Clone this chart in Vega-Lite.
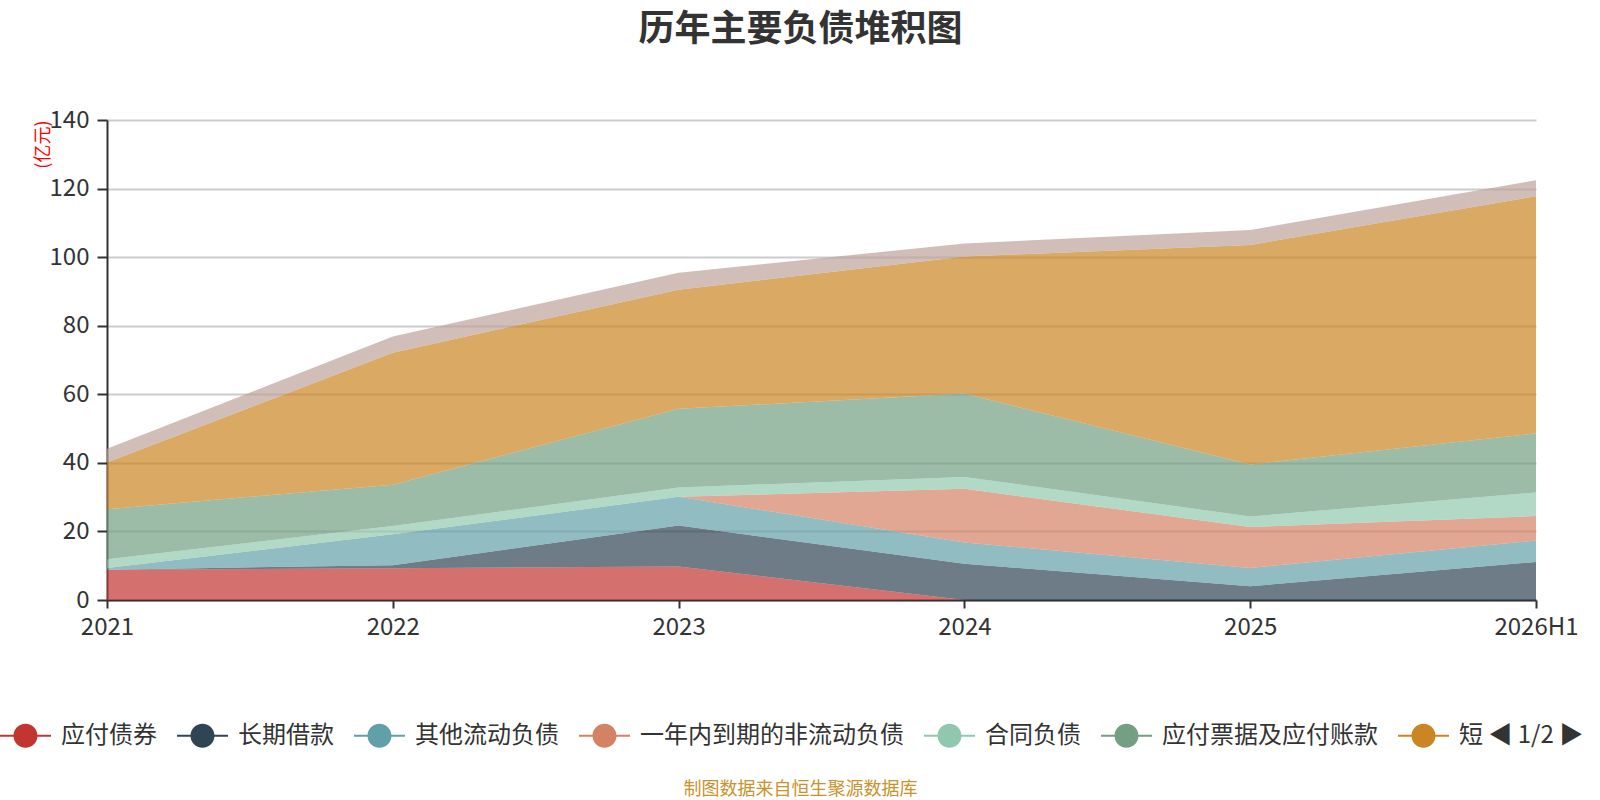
{
  "$schema": "https://vega.github.io/schema/vega-lite/v6.json",
  "width": 1429,
  "height": 480,
  "autosize": "none",
  "padding": {"left": 107, "top": 120, "right": 64, "bottom": 200},
  "background": "white",
  "config": {"font": "Noto Sans CJK SC", "view": {"stroke": null}},
  "title": {
    "text": "历年主要负债堆积图",
    "fontSize": 36,
    "fontWeight": "bold",
    "color": "#333333",
    "anchor": "middle",
    "dx": -21,
    "offset": 59
  },
  "data": {
    "values": [
      {"year": "2021", "item": "应付债券", "value": 8.85},
      {"year": "2022", "item": "应付债券", "value": 9.25},
      {"year": "2023", "item": "应付债券", "value": 9.8},
      {"year": "2024", "item": "应付债券", "value": 0},
      {"year": "2025", "item": "应付债券", "value": 0},
      {"year": "2026H1", "item": "应付债券", "value": 0},
      {"year": "2021", "item": "长期借款", "value": 0},
      {"year": "2022", "item": "长期借款", "value": 0.9},
      {"year": "2023", "item": "长期借款", "value": 11.9},
      {"year": "2024", "item": "长期借款", "value": 10.6},
      {"year": "2025", "item": "长期借款", "value": 4.0},
      {"year": "2026H1", "item": "长期借款", "value": 11.1},
      {"year": "2021", "item": "其他流动负债", "value": 0.45},
      {"year": "2022", "item": "其他流动负债", "value": 9.0},
      {"year": "2023", "item": "其他流动负债", "value": 8.4},
      {"year": "2024", "item": "其他流动负债", "value": 6.2},
      {"year": "2025", "item": "其他流动负债", "value": 5.35},
      {"year": "2026H1", "item": "其他流动负债", "value": 6.25},
      {"year": "2021", "item": "一年内到期的非流动负债", "value": 0},
      {"year": "2022", "item": "一年内到期的非流动负债", "value": 0},
      {"year": "2023", "item": "一年内到期的非流动负债", "value": 0},
      {"year": "2024", "item": "一年内到期的非流动负债", "value": 15.65},
      {"year": "2025", "item": "一年内到期的非流动负债", "value": 11.95},
      {"year": "2026H1", "item": "一年内到期的非流动负债", "value": 7.15},
      {"year": "2021", "item": "合同负债", "value": 2.6},
      {"year": "2022", "item": "合同负债", "value": 2.4},
      {"year": "2023", "item": "合同负债", "value": 2.7},
      {"year": "2024", "item": "合同负债", "value": 3.45},
      {"year": "2025", "item": "合同负债", "value": 3.05},
      {"year": "2026H1", "item": "合同负债", "value": 6.85},
      {"year": "2021", "item": "应付票据及应付账款", "value": 14.6},
      {"year": "2022", "item": "应付票据及应付账款", "value": 12.1},
      {"year": "2023", "item": "应付票据及应付账款", "value": 22.95},
      {"year": "2024", "item": "应付票据及应付账款", "value": 24.3},
      {"year": "2025", "item": "应付票据及应付账款", "value": 15.2},
      {"year": "2026H1", "item": "应付票据及应付账款", "value": 17.25},
      {"year": "2021", "item": "短期借款", "value": 13.6},
      {"year": "2022", "item": "短期借款", "value": 38.5},
      {"year": "2023", "item": "短期借款", "value": 34.75},
      {"year": "2024", "item": "短期借款", "value": 40.0},
      {"year": "2025", "item": "短期借款", "value": 64.0},
      {"year": "2026H1", "item": "短期借款", "value": 69.15},
      {"year": "2021", "item": "应付职工薪酬", "value": 4.0},
      {"year": "2022", "item": "应付职工薪酬", "value": 4.7},
      {"year": "2023", "item": "应付职工薪酬", "value": 4.95},
      {"year": "2024", "item": "应付职工薪酬", "value": 3.8},
      {"year": "2025", "item": "应付职工薪酬", "value": 4.35},
      {"year": "2026H1", "item": "应付职工薪酬", "value": 4.7}
    ]
  },
  "transform": [
    {
      "calculate": "indexof(['应付债券', '长期借款', '其他流动负债', '一年内到期的非流动负债', '合同负债', '应付票据及应付账款', '短期借款', '应付职工薪酬'], datum.item)",
      "as": "stack_order"
    }
  ],
  "mark": {"type": "area", "fillOpacity": 0.7},
  "encoding": {
    "x": {
      "field": "year",
      "type": "ordinal",
      "sort": null,
      "scale": {"type": "point", "padding": 0},
      "axis": {
        "title": "制图数据来自恒生聚源数据库",
        "titleFontSize": 18,
        "titleFontWeight": "normal",
        "titleColor": "#c9922c",
        "titleX": 693,
        "titleY": 189,
        "titleAlign": "center",
        "titleBaseline": "middle",
        "labelAngle": 0,
        "labelFontSize": 24,
        "labelColor": "#333333",
        "labelPadding": 7,
        "labelOverlap": false,
        "tickSize": 8,
        "tickWidth": 2,
        "tickColor": "#333333",
        "domainColor": "#333333",
        "domainWidth": 2,
        "grid": false
      }
    },
    "y": {
      "field": "value",
      "type": "quantitative",
      "stack": "zero",
      "scale": {"domain": [0, 140], "nice": false},
      "axis": {
        "title": "(亿元)",
        "titleColor": "red",
        "titleFontSize": 18,
        "titleFontWeight": "normal",
        "titleAngle": -90,
        "titleX": -64,
        "titleY": 0,
        "titleAlign": "right",
        "titleBaseline": "middle",
        "values": [0, 20, 40, 60, 80, 100, 120, 140],
        "labelFontSize": 24,
        "labelColor": "#333333",
        "labelPadding": 8,
        "tickSize": 10,
        "tickWidth": 2,
        "tickColor": "#333333",
        "domainColor": "#333333",
        "domainWidth": 2,
        "gridColor": "#cccccc",
        "gridWidth": 2
      }
    },
    "color": {
      "field": "item",
      "type": "nominal",
      "scale": {
        "domain": ["应付债券", "长期借款", "其他流动负债", "一年内到期的非流动负债", "合同负债", "应付票据及应付账款", "短期借款", "应付职工薪酬"],
        "range": ["#c23531", "#2f4554", "#61a0a8", "#d48265", "#91c7ae", "#749f83", "#ca8622", "#bda29a"]
      },
      "legend": {
        "orient": "none",
        "legendX": -107,
        "legendY": 590,
        "direction": "horizontal",
        "columns": 7,
        "title": null,
        "padding": 0,
        "values": ["应付债券", "长期借款", "其他流动负债", "一年内到期的非流动负债", "合同负债", "应付票据及应付账款", "短期借款"],
        "labelExpr": "datum.label == '短期借款' ? '短   ◀ 1/2 ▶' : datum.label",
        "labelFontSize": 24,
        "labelColor": "#333333",
        "labelLimit": 400,
        "labelOffset": 10,
        "columnPadding": 20,
        "symbolType": "M-1,-0.04H1V0.04H-1Z M0.47,0A0.47,0.47,0,1,1,-0.47,0A0.47,0.47,0,1,1,0.47,0Z",
        "symbolSize": 2601,
        "symbolOpacity": 1,
        "symbolStrokeWidth": 0
      }
    },
    "order": {"field": "stack_order", "type": "quantitative"}
  }
}
